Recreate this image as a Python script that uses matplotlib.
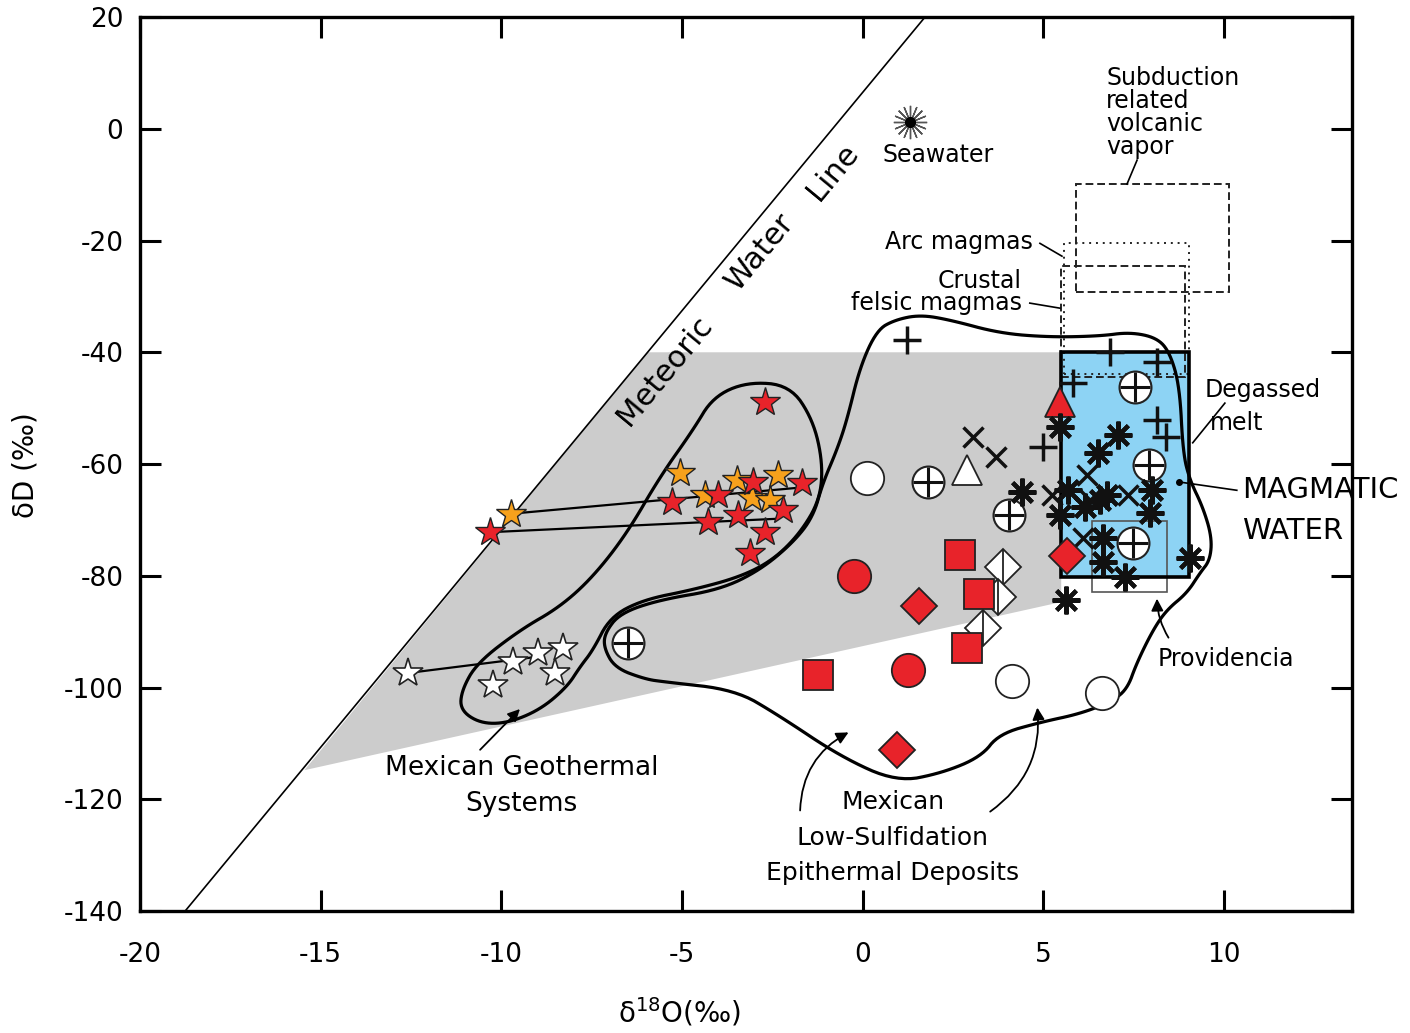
import numpy as np
import matplotlib
matplotlib.use("Agg")
import matplotlib.pyplot as plt
from matplotlib.patches import Polygon, Rectangle

plt.rcParams['font.family'] = ['DejaVu Sans']
plt.rcParams['axes.unicode_minus'] = False

# ---- data (d18O, dD) ----
mwl_x = [-18.75, 1.73]
mwl_y = [-140, 20]

gray_x = [-5.95, 5.5, 5.5, -15.45]
gray_y = [-40, -40, -84.7, -114.8]

geo_x = [-3.2, -2.01, -1.37, -1.1, -1.18, -1.73, -2.48, -3.39, -4.69, -6.08, -6.99, -7.46,
         -7.82, -8.18, -8.93, -9.84, -10.59, -11.14, -11.09, -10.67, -9.48, -8.38, -7.46,
         -6.52, -5.61, -4.69, -4.14]
geo_y = [-45.3, -45.9, -52.1, -59.8, -66.4, -72.4, -77.2, -80.2, -82.5, -84.3, -87.4, -93.3,
         -96.3, -99.9, -104.0, -106.4, -106.4, -104.0, -100.4, -95.6, -89.7, -85.6, -80.2,
         -72.4, -62.3, -53.9, -48.0]

epi_x = [-0.43, -0.71, -1.1, -1.37, -1.93, -2.84, -3.95, -5.61, -6.71, -7.13, -7.16, -6.85,
         -6.02, -5.47, -3.53, -2.34, -0.6, 0.95, 2.2, 3.28, 3.78, 4.94, 6.02, 6.85, 7.32,
         7.59, 8.04, 8.42, 8.98, 9.34, 9.62, 9.67, 9.42, 9.06, 8.87, 8.78, 8.51, 8.15, 7.4,
         6.57, 5.19, 3.8, 2.42, 1.59, 0.9, 0.4, -0.07]
epi_y = [-52.1, -57.5, -63.4, -69.5, -74.1, -79.0, -82.5, -84.3, -86.7, -90.2, -92.9, -96.5,
         -98.5, -99.0, -100.4, -104.9, -112.4, -116.9, -115.3, -112.4, -108.3, -106.2, -104.7,
         -102.6, -100.4, -95.6, -89.7, -86.1, -83.1, -79.5, -77.2, -73.1, -67.7, -62.9, -58.0,
         -46.2, -40.1, -37.4, -36.4, -37.1, -37.3, -36.6, -34.2, -33.3, -34.2, -36.0, -42.6]

# boxes: (x0, x1, y0, y1)
magmatic_box = (5.5, 9.05, -80.3, -40.0)
vapor_box = (5.9, 10.15, -29.3, -9.9)
arc_box = (5.58, 9.04, -43.8, -20.5)
crustal_box = (5.5, 8.92, -44.4, -24.6)
prov_box = (6.35, 8.43, -82.9, -70.2)

red_star_x = [-2.70, -10.31, -5.28, -4.00, -3.03, -1.68, -2.20, -4.28, -3.45, -2.70, -3.12]
red_star_y = [-48.9, -72.2, -66.8, -65.5, -63.2, -63.4, -68.2, -70.4, -69.1, -72.2, -75.9]
orange_star_x = [-9.73, -5.05, -4.36, -3.48, -2.34, -3.06, -2.56]
orange_star_y = [-68.9, -61.6, -65.5, -62.9, -62.0, -66.1, -66.4]
white_star_x = [-12.58, -10.23, -9.68, -8.98, -8.29, -8.51]
white_star_y = [-97.4, -99.6, -95.4, -93.8, -92.9, -97.4]
tie_lines = [((-9.73, -1.87), (-68.9, -64.3)),
             ((-10.31, -2.37), (-72.2, -69.8)),
             ((-12.58, -9.0), (-97.4, -94.5))]

open_circ_x = [0.12, 4.13, 6.63]
open_circ_y = [-62.5, -98.8, -101.0]
cross_circ_x = [1.81, 4.05, -6.49, 7.54, 7.93, 7.48]
cross_circ_y = [-63.2, -69.1, -92.0, -46.2, -60.2, -74.1]
red_circ_x = [-0.24, 1.26]
red_circ_y = [-80.0, -96.9]
red_sq_x = [2.7, 3.22, 2.89, -1.23]
red_sq_y = [-76.3, -83.3, -92.9, -97.8]
red_dia_x = [1.56, 0.95, 5.66]
red_dia_y = [-85.4, -111.2, -76.5]
split_dia_x = [3.89, 3.75, 3.33]
split_dia_y = [-78.4, -83.8, -89.4]
red_tri_x, red_tri_y = [5.46], [-48.9]
white_tri_x, white_tri_y = [2.89], [-61.1]
plus_x = [1.23, 6.85, 8.15, 5.82, 8.15, 8.40, 4.99]
plus_y = [-37.8, -40.0, -41.7, -45.5, -52.1, -55.2, -57.0]
x_x = [3.06, 3.69, 6.21, 5.24, 6.29, 7.35, 6.10]
x_y = [-55.2, -58.7, -62.0, -65.5, -66.4, -65.5, -73.2]
ast_x = [4.41, 5.46, 7.07, 6.52, 5.68, 6.16, 6.57, 6.76, 8.01, 5.46, 7.96, 6.65, 6.65, 7.26, 9.06, 5.63]
ast_y = [-65.0, -53.4, -54.8, -58.0, -64.7, -67.7, -66.4, -65.5, -64.7, -69.1, -68.8, -73.2,
         -77.5, -80.2, -76.8, -84.3]
seawater = (1.3, 1.2)
magmatic_dot = (8.75, -63.2)

xticks = [-20, -15, -10, -5, 0, 5, 10]
yticks = [-140, -120, -100, -80, -60, -40, -20, 0, 20]

RED = '#e8232a'
ORANGE = '#f7a11c'
BLUE = '#8dd3f4'
GRAY = '#cccccc'


def chaikin(x, y, n=3):
    p = np.column_stack([x, y])
    for _ in range(n):
        q = np.roll(p, -1, axis=0)
        p = np.column_stack([0.75 * p + 0.25 * q, 0.25 * p + 0.75 * q]).reshape(-1, 2)
    return p


fig = plt.figure(figsize=(14.1, 10.33), dpi=100)
ax = fig.add_axes([0.0993, 0.1181, 0.8596, 0.8654])
ax.set_xlim(-20, 13.55)
ax.set_ylim(-140, 20)

ax.add_patch(Polygon(np.column_stack([gray_x, gray_y]), closed=True, fc=GRAY, ec='none', zorder=1))
x0, x1, y0, y1 = magmatic_box
ax.add_patch(Rectangle((x0, y0), x1 - x0, y1 - y0, fc=BLUE, ec='none', zorder=1.5))

for box, ls in [(vapor_box, (0, (4, 2))), (crustal_box, (0, (4, 2))), (arc_box, (0, (1, 2.5)))]:
    x0, x1, y0, y1 = box
    ax.add_patch(Rectangle((x0, y0), x1 - x0, y1 - y0, fc='none', ec='#222222', lw=1.4, ls=ls, zorder=2))
x0, x1, y0, y1 = prov_box
ax.add_patch(Rectangle((x0, y0), x1 - x0, y1 - y0, fc='none', ec='#555555', lw=1.2, zorder=2.5))

for cx, cy in [(geo_x, geo_y), (epi_x, epi_y)]:
    s = chaikin(cx, cy)
    ax.add_patch(Polygon(s, closed=True, fc='none', ec='black', lw=2.3, zorder=3))

ax.plot(mwl_x, mwl_y, color='black', lw=1.2, zorder=3)
for lx, ly in tie_lines:
    ax.plot(lx, ly, color='black', lw=1.6, zorder=3)

x0, x1, y0, y1 = magmatic_box
ax.add_patch(Rectangle((x0, y0), x1 - x0, y1 - y0, fc='none', ec='black', lw=2.6, zorder=3.5))

mk = dict(ls='none', zorder=5)
ax.plot(orange_star_x, orange_star_y, marker='*', ms=22, mfc=ORANGE, mec='#222222', mew=1.0, **mk)
ax.plot(red_star_x, red_star_y, marker='*', ms=22, mfc=RED, mec='#222222', mew=1.0, **mk)
ax.plot(white_star_x, white_star_y, marker='*', ms=22, mfc='white', mec='#222222', mew=1.2, **mk)

ax.plot(open_circ_x, open_circ_y, marker='o', ms=24, mfc='white', mec='#222222', mew=1.3, **mk)
ax.plot(cross_circ_x, cross_circ_y, marker='o', ms=23, mfc='white', mec='#222222', mew=1.5, **mk)
ax.plot(cross_circ_x, cross_circ_y, marker='+', ms=22, mec='#111111', mew=2.2, ls='none', zorder=5.1)
ax.plot(red_circ_x, red_circ_y, marker='o', ms=24, mfc=RED, mec='#222222', mew=1.3, **mk)
ax.plot(split_dia_x, split_dia_y, marker='D', ms=18, mfc='white', mec='#222222', mew=1.3, **mk)
ax.plot(split_dia_x, split_dia_y, marker='|', ms=24, mec='#222222', mew=1.3, ls='none', zorder=5.1)
ax.plot(red_dia_x, red_dia_y, marker='D', ms=18, mfc=RED, mec='#222222', mew=1.3, ls='none', zorder=5.2)
ax.plot(red_sq_x, red_sq_y, marker='s', ms=21, mfc=RED, mec='#222222', mew=1.3, ls='none', zorder=5.3)
ax.plot(red_tri_x, red_tri_y, marker='^', ms=22, mfc=RED, mec='#222222', mew=1.3, **mk)
ax.plot(white_tri_x, white_tri_y, marker='^', ms=22, mfc='white', mec='#222222', mew=1.3, **mk)
ax.plot(plus_x, plus_y, marker='+', ms=20, mec='#111111', mew=2.5, **mk)
ax.plot(x_x, x_y, marker='x', ms=14, mec='#111111', mew=2.5, **mk)
ax.plot(ast_x, ast_y, marker=(8, 2, 0), ms=20, mec='#111111', mew=3.0, **mk)

ax.plot(*seawater, marker=(16, 2, 0), ms=24, mec='#555555', mew=1.0, ls='none', zorder=5)
ax.plot(*seawater, marker='o', ms=7, mfc='black', mec='black', ls='none', zorder=5.1)
ax.plot(*magmatic_dot, marker='o', ms=4, mfc='black', mec='black', ls='none', zorder=5.1)

# ---- text ----
fs = 17
for (tx, ty), word in zip([(-5.47, -43.2), (-2.84, -22.1), (-0.82, -7.7)], ['Meteoric', 'Water', 'Line']):
    ax.text(tx, ty, word, rotation=50.4, rotation_mode='anchor', ha='center', va='center', fontsize=22)

ax.text(2.1, -4.7, 'Seawater', ha='center', va='center', fontsize=fs)
ax.text(6.74, 11.3, 'Subduction\nrelated\nvolcanic\nvapor', ha='left', va='top', fontsize=fs, linespacing=0.95)
ax.plot([7.6, 7.32], [-5.6, -9.9], color='black', lw=1.2)
ax.text(4.72, -20.3, 'Arc magmas', ha='right', va='center', fontsize=fs)
ax.plot([4.91, 5.52], [-20.5, -22.8], color='black', lw=1.2)
ax.text(3.25, -27.2, 'Crustal', ha='center', va='center', fontsize=fs)
ax.text(4.41, -31.2, 'felsic magmas', ha='right', va='center', fontsize=fs)
ax.plot([4.63, 5.46], [-31.2, -32.1], color='black', lw=1.2)
ax.text(11.08, -46.8, 'Degassed', ha='center', va='center', fontsize=fs)
ax.text(10.36, -52.7, 'melt', ha='center', va='center', fontsize=fs)
ax.plot([10.03, 9.14], [-49.1, -56.2], color='black', lw=1.2)
ax.text(10.5, -64.7, 'MAGMATIC', ha='left', va='center', fontsize=21)
ax.text(10.5, -72.0, 'WATER', ha='left', va='center', fontsize=21)
ax.plot([magmatic_dot[0], 10.36], [magmatic_dot[1], -64.7], color='black', lw=1.2)
ax.text(10.06, -94.9, 'Providencia', ha='center', va='center', fontsize=fs)
ax.annotate('', xy=(8.15, -83.6), xytext=(8.51, -91.5),
            arrowprops=dict(arrowstyle='-|>', color='black', lw=1.3, mutation_scale=18,
                            connectionstyle='arc3,rad=-0.15'))

ax.text(-9.43, -117.6, 'Mexican Geothermal\nSystems', ha='center', va='center', fontsize=19,
        linespacing=1.5)
ax.annotate('', xy=(-9.43, -103.5), xytext=(-10.64, -111.5),
            arrowprops=dict(arrowstyle='-|>', color='black', lw=1.3, mutation_scale=18))
ax.text(0.84, -126.9, 'Mexican\nLow-Sulfidation\nEpithermal Deposits', ha='center', va='center',
        fontsize=18, linespacing=1.6)
ax.annotate('', xy=(-0.32, -107.8), xytext=(-1.73, -122.5),
            arrowprops=dict(arrowstyle='-|>', color='black', lw=1.3, mutation_scale=18,
                            connectionstyle='arc3,rad=-0.3'))
ax.annotate('', xy=(4.83, -103.1), xytext=(3.47, -122.5),
            arrowprops=dict(arrowstyle='-|>', color='black', lw=1.3, mutation_scale=18,
                            connectionstyle='arc3,rad=0.3'))

# ---- axes ----
ax.set_xticks(xticks)
ax.set_yticks(yticks)
ax.tick_params(direction='in', length=15, width=2.2, labelsize=19, top=True, right=True)
ax.tick_params(axis='x', pad=22)
ax.tick_params(axis='y', pad=12)
for sp in ax.spines.values():
    sp.set_linewidth(2.4)

fig.text(0.482, 0.02, 'δ$^{18}$O(‰)', ha='center', va='center', fontsize=20)
fig.text(0.018, 0.55, 'δD (‰)', ha='center', va='center', rotation=90, fontsize=20)

fig.savefig('out.png', dpi=100)
